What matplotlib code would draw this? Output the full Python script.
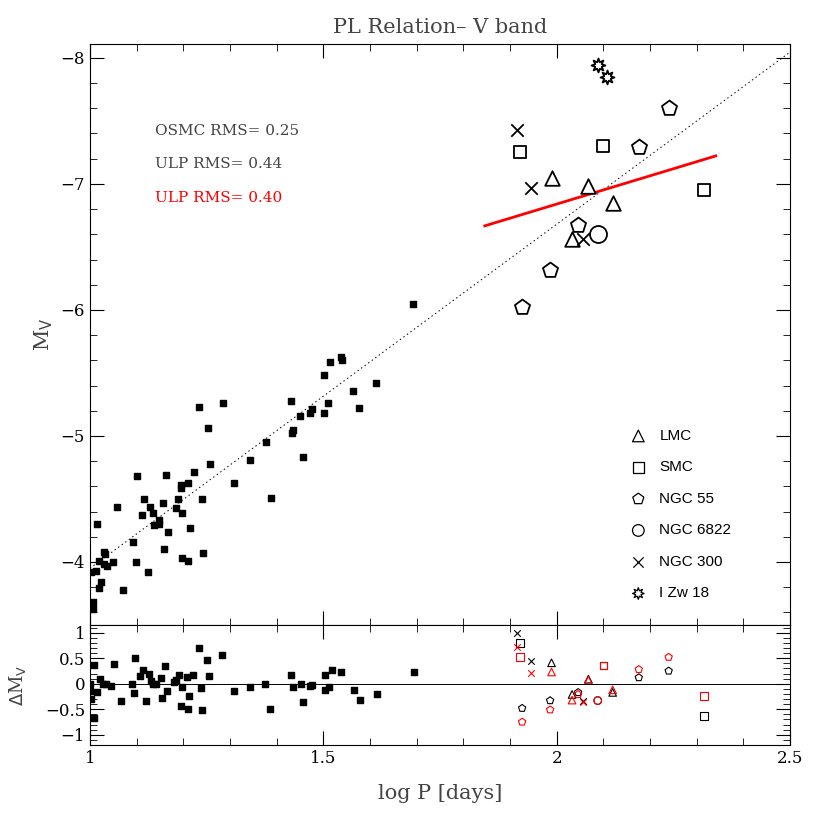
import matplotlib.pyplot as plt
import numpy as np
from matplotlib.ticker import MultipleLocator, FuncFormatter

# OGLE/field calibrators (filled squares)
cal_logp = [1.612, 1.564, 1.577, 1.511, 1.502, 1.476, 1.471, 1.451, 1.430, 1.434, 1.433, 1.457,
            1.377, 1.343, 1.309, 1.387, 1.284, 1.234, 1.252, 1.257, 1.223, 1.162, 1.101, 1.209,
            1.194, 1.194, 1.189, 1.241, 1.157, 1.184, 1.116, 1.129, 1.134, 1.111, 1.198, 1.147,
            1.147, 1.137, 1.167, 1.214, 1.057, 1.014, 1.093, 1.159, 1.243, 1.197, 1.211, 1.099,
            1.124, 1.070, 1.029, 1.032, 1.019, 1.029, 1.037, 1.049, 1.002, 1.012, 1.023, 1.020,
            1.007, 1.007, 1.692, 1.501, 1.514, 1.538, 1.541]
cal_mv = [-5.42, -5.36, -5.22, -5.26, -5.18, -5.21, -5.18, -5.16, -5.28, -5.05, -5.02, -4.83,
          -4.95, -4.81, -4.63, -4.51, -5.26, -5.23, -5.06, -4.78, -4.71, -4.69, -4.68, -4.63,
          -4.61, -4.59, -4.50, -4.50, -4.47, -4.43, -4.50, -4.44, -4.39, -4.37, -4.39, -4.33,
          -4.30, -4.29, -4.24, -4.27, -4.44, -4.30, -4.16, -4.10, -4.07, -4.03, -4.01, -4.00,
          -3.92, -3.78, -4.08, -4.06, -4.01, -3.98, -3.97, -4.00, -3.92, -3.93, -3.84, -3.79,
          -3.68, -3.63, -6.05, -5.48, -5.59, -5.63, -5.60]

cal_res_logp = [1.0, 1.008, 1.001, 1.003, 1.008, 1.015, 1.021, 1.027, 1.034, 1.044, 1.052, 1.067,
                1.089, 1.094, 1.097, 1.108, 1.114, 1.121, 1.126, 1.13, 1.135, 1.142, 1.153, 1.155,
                1.16, 1.165, 1.179, 1.184, 1.191, 1.194, 1.197, 1.209, 1.212, 1.207, 1.221, 1.233,
                1.238, 1.24, 1.25, 1.255, 1.282, 1.309, 1.343, 1.376, 1.386, 1.43, 1.434, 1.452,
                1.457, 1.472, 1.476, 1.503, 1.504, 1.513, 1.518, 1.538, 1.566, 1.578, 1.614, 1.695]
cal_res = [0.0, 0.37, -0.14, -0.30, -0.67, -0.17, 0.09, -0.01, -0.01, -0.05, 0.38, -0.34,
           -0.01, -0.19, 0.50, 0.16, 0.27, -0.34, 0.19, 0.06, -0.01, -0.01, 0.12, -0.27,
           0.34, -0.14, 0.03, 0.07, 0.17, -0.43, -0.07, -0.49, -0.25, 0.14, 0.17, 0.69,
           -0.08, -0.52, 0.46, 0.16, 0.57, -0.15, -0.06, -0.01, -0.49, 0.17, -0.07, -0.01,
           -0.36, -0.04, -0.02, 0.17, -0.12, -0.07, 0.27, 0.22, -0.12, -0.31, -0.20, 0.22]

# ULP Cepheids: name -> (marker, logP, Mv, residual OSMC, residual ULP)
ulp = {
    'LMC': ('^', [1.989, 2.068, 2.120, 2.033], [-7.05, -6.98, -6.85, -6.56],
            [0.41, 0.09, -0.17, -0.21], [0.23, 0.07, -0.12, -0.32]),
    'SMC': ('s', [1.921, 2.100, 2.316], [-7.25, -7.30, -6.95],
            [0.80, 0.36, -0.63], [0.52, 0.36, -0.24]),
    'NGC 55': ('p', [2.240, 2.176, 2.046, 1.986, 1.926], [-7.60, -7.29, -6.67, -6.32, -6.02],
               [0.25, 0.12, -0.17, -0.33, -0.48], [0.52, 0.28, -0.21, -0.51, -0.75]),
    'NGC 6822': ('o', [2.088], [-6.60], [-0.33], [-0.33]),
    'NGC 300': ('x', [1.914, 1.945, 2.057], [-7.43, -6.97, -6.56],
                [1.00, 0.44, -0.33], [0.71, 0.21, -0.36]),
    'I Zw 18': ((8, 1, 0), [2.089, 2.108], [-7.94, -7.85], [], []),
}
sizes = {'^': 110, 's': 85, 'p': 130, 'o': 150, 'x': 80}

fit_x = [1.0, 2.5]
fit_y = [-3.95, -8.045]
ulp_fit_x = [1.846, 2.341]
ulp_fit_y = [-6.667, -7.222]

serif = 'DejaVu Serif'
grey = '#444444'
fmt = FuncFormatter(lambda v, p: ('%g' % v).replace('-', '\u2212'))

fig = plt.figure(figsize=(8.3, 8.3), dpi=100)
ax = fig.add_axes([0.1084, 0.247, 0.8434, 0.700])
ax2 = fig.add_axes([0.1084, 0.1024, 0.8434, 0.1446], sharex=ax)

ax.plot(fit_x, fit_y, color='black', ls=(0, (1.5, 3)), lw=0.7)
ax.plot(ulp_fit_x, ulp_fit_y, color='red', lw=2)
ax.scatter(cal_logp, cal_mv, marker='s', s=16, color='black', zorder=3)

for name, (m, lp, mv, r1, r2) in ulp.items():
    size = sizes.get(m, 100) if isinstance(m, str) else 100
    if m == 'x':
        ax.scatter(lp, mv, marker=m, s=size, color='black', lw=1.3, zorder=4)
    else:
        ax.scatter(lp, mv, marker=m, s=size, facecolors='white', edgecolors='black', lw=1.3, zorder=4)
    if r1:
        for res, col in ((r1, 'black'), (r2, 'red')):
            if m == 'x':
                ax2.scatter(lp, res, marker=m, s=22, color=col, lw=0.8)
            else:
                ax2.scatter(lp, res, marker=m, s=30, facecolors='none', edgecolors=col, lw=0.8)

# legend
for i, name in enumerate(ulp):
    m = ulp[name][0]
    yy = -5.0 + i * 0.25
    if m == 'x':
        ax.scatter([2.175], [yy], marker=m, s=55, color='black', lw=0.9)
    else:
        ax.scatter([2.175], [yy], marker=m, s=70, facecolors='none', edgecolors='black', lw=0.9)
    ax.text(2.22, yy, name, fontsize=11, va='center', family='Liberation Sans')

ax.text(1.14, -7.42, 'OSMC RMS= 0.25', fontsize=11, family=serif, va='center', color=grey)
ax.text(1.14, -7.16, 'ULP RMS= 0.44', fontsize=11, family=serif, va='center', color=grey)
ax.text(1.14, -6.89, 'ULP RMS= 0.40', fontsize=11, family=serif, va='center', color='red')

ax.set_xlim(1, 2.5)
ax.set_ylim(-3.5, -8.11)
ax.set_title('PL Relation\u2013 V band', fontsize=15, family=serif, color=grey, pad=8)
ax.set_ylabel('M$_\\mathrm{V}$', fontsize=15, family=serif, color=grey)
ax.yaxis.set_major_locator(MultipleLocator(1))
ax.yaxis.set_minor_locator(MultipleLocator(0.2))
ax.tick_params(labelbottom=False)

ax2.scatter(cal_res_logp, cal_res, marker='s', s=16, color='black', zorder=3)
ax2.axhline(0, color='black', lw=0.7)
ax2.set_ylim(-1.2, 1.15)
ax2.yaxis.set_major_locator(MultipleLocator(0.5))
ax2.yaxis.set_minor_locator(MultipleLocator(0.1))
ax2.set_ylabel('$\\Delta$M$_\\mathrm{V}$', fontsize=13, family=serif, color=grey, labelpad=12)
ax2.set_xlabel('log P [days]', fontsize=15, family=serif, color=grey, labelpad=12)

for a in (ax, ax2):
    a.xaxis.set_major_locator(MultipleLocator(0.5))
    a.xaxis.set_minor_locator(MultipleLocator(0.1))
    a.xaxis.set_major_formatter(fmt)
    a.yaxis.set_major_formatter(fmt)
    a.tick_params(which='both', direction='in', top=True, right=True, labelsize=12)
    a.tick_params(which='major', length=10)
    a.tick_params(which='minor', length=5)
    for lab in a.get_xticklabels() + a.get_yticklabels():
        lab.set_family(serif)

fig.savefig('out.png', dpi=100)
